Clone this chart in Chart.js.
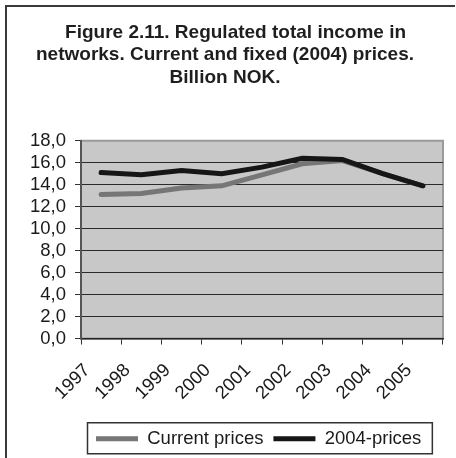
<!DOCTYPE html>
<html lang="en">
<head>
  <meta charset="UTF-8">
  <title>Regulated total income in networks</title>
  <script src="https://cdn.jsdelivr.net/npm/chart.js"></script>
  <style>
    body { margin: 0; background: #fff; }
    #wrap { position: relative; width: 456px; height: 458px; overflow: hidden; }
    #frame { position: absolute; left: 5px; top: 5px; width: 448px; height: 460px;
             border-left: 2px solid #3a3a3a; border-top: 2px solid #3a3a3a; }
    canvas { position: absolute; left: 0; top: 0; }
  </style>
</head>
<body>
  <div id="wrap">
    <div id="frame"></div>
    <canvas id="incomeChart" width="456" height="458"></canvas>
  </div>

  <script>
    const years = ['1997', '1998', '1999', '2000', '2001', '2002', '2003', '2004', '2005'];
    const currentPrices = [13.1, 13.2, 13.7, 13.9, 14.9, 15.9, 16.2, 15.0, 13.9];
    const fixedPrices = [15.1, 14.9, 15.3, 15.0, 15.6, 16.4, 16.3, 15.0, 13.9];
    const seriesNames = ['Current prices', '2004-prices'];
    const titleLines = [
      '    Figure 2.11. Regulated total income in',
      'networks. Current and fixed (2004) prices.',
      'Billion NOK.'
    ];

    const font = 'Liberation Sans, Arial, sans-serif';

    // grey plot area + its light outline
    const plotBackground = {
      id: 'plotBackground',
      beforeDraw(chart) {
        const { ctx, chartArea: a } = chart;
        ctx.save();
        ctx.fillStyle = '#c8c8c8';
        ctx.fillRect(a.left, a.top, a.right - a.left, a.bottom - a.top);
        ctx.strokeStyle = '#9a9a9a';
        ctx.lineWidth = 2;
        ctx.strokeRect(a.left, a.top, a.right - a.left, a.bottom - a.top);
        ctx.restore();
      }
    };

    // move legend to the right and put a box round it
    const legendBox = {
      id: 'legendBox',
      afterLayout(chart) {
        chart.legend.left = 86;
      },
      afterDraw(chart) {
        const boxes = chart.legend.legendHitBoxes;
        if (!boxes || !boxes.length) return;
        const first = boxes[0], last = boxes[boxes.length - 1];
        const cy = first.top + first.height / 2;
        const ctx = chart.ctx;
        ctx.save();
        ctx.strokeStyle = '#333';
        ctx.lineWidth = 1.5;
        ctx.strokeRect(first.left - 8.5, cy - 16, last.left + last.width + 11 - (first.left - 8.5), 31);
        ctx.restore();
      }
    };

    new Chart(document.getElementById('incomeChart'), {
      type: 'line',
      data: {
        labels: years,
        datasets: [
          {
            label: seriesNames[0],
            data: currentPrices,
            borderColor: '#767676',
            backgroundColor: '#767676',
            borderWidth: 5,
            borderCapStyle: 'round',
            pointRadius: 0,
            tension: 0,
            order: 2
          },
          {
            label: seriesNames[1],
            data: fixedPrices,
            borderColor: '#161616',
            backgroundColor: '#161616',
            borderWidth: 5,
            borderCapStyle: 'round',
            pointRadius: 0,
            tension: 0,
            order: 1
          }
        ]
      },
      options: {
        responsive: false,
        animation: false,
        layout: { padding: { left: 7, right: 13, top: 0, bottom: 0 } },
        plugins: {
          title: {
            display: true,
            text: titleLines,
            color: '#1e1e1e',
            font: { family: font, size: 19, weight: 'bold', lineHeight: 1.18 },
            padding: { top: 21.5, bottom: 52 }
          },
          legend: {
            position: 'bottom',
            align: 'start',
            labels: {
              color: '#1a1a1a',
              font: { family: font, size: 18.5 },
              usePointStyle: true,
              pointStyleWidth: 42,
              pointStyle: 'line',
              padding: 10,
              sort: (a, b) => a.datasetIndex - b.datasetIndex
            }
          },
          tooltip: { enabled: false }
        },
        scales: {
          x: {
            offset: true,
            afterFit: scale => { scale.height = 81; },
            grid: {
              offset: true,
              drawOnChartArea: false,
              color: '#333',
              tickLength: 6
            },
            border: { color: '#222', width: 1.5 },
            ticks: {
              color: '#1a1a1a',
              font: { family: font, size: 18.5 },
              minRotation: 45,
              maxRotation: 45,
              autoSkip: false,
              labelOffset: -14,
              padding: 15
            }
          },
          y: {
            min: 0,
            max: 18,
            afterFit: scale => { scale.width = 74; },
            grid: {
              color: ctx => ctx.tick && ctx.tick.value === 18 ? '#9a9a9a' : '#2a2a2a',
              tickColor: '#333',
              tickLength: 6
            },
            border: { color: '#555', width: 2 },
            ticks: {
              stepSize: 2,
              autoSkip: false,
              padding: 9,
              color: '#1a1a1a',
              font: { family: font, size: 18.5 },
              callback: v => v.toFixed(1).replace('.', ',')
            }
          }
        }
      },
      plugins: [plotBackground, legendBox]
    });
  </script>
</body>
</html>
